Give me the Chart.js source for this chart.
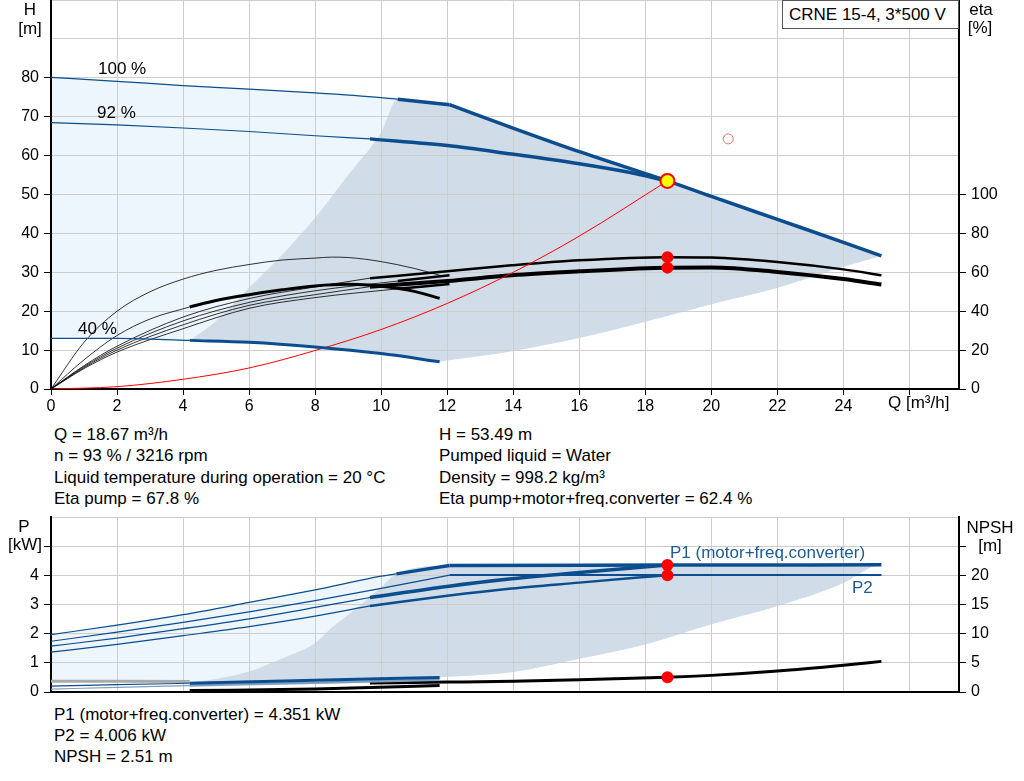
<!DOCTYPE html>
<html>
<head>
<meta charset="utf-8">
<title>CRNE 15-4, 3*500 V</title>
<script src="https://cdn.jsdelivr.net/npm/chart.js@4.4.1/dist/chart.umd.min.js"></script>
<style>
  body { margin: 0; background: #fff; }
  #page { position: relative; width: 1024px; height: 781px; overflow: hidden;
          font-family: "Liberation Sans", Arial, sans-serif; font-size: 17px; color: #000; }
  #page canvas { position: absolute; left: 0; }
  .t { position: absolute; white-space: nowrap; line-height: 17px; }
  .c { text-align: center; width: 60px; }
  .lbl { color: #1f5a96; }
  .box { position: absolute; left: 782px; top: 0; width: 177px; height: 29px;
         border: 1px solid #555; box-sizing: border-box; background: #fff; }
</style>
</head>
<body>
<div id="page">
  <canvas id="headChart" width="1024" height="425" style="top:0"></canvas>
  <canvas id="powerChart" width="1024" height="190" style="top:510px"></canvas>

  <div class="box"></div>
  <div class="t" style="left:789px;top:6px">CRNE 15-4, 3*500 V</div>

  <div class="t c" style="left:0;top:1px">H</div>
  <div class="t c" style="left:0;top:20px">[m]</div>
  <div class="t c" style="left:951px;top:1px">eta</div>
  <div class="t c" style="left:950px;top:19px">[%]</div>
  <div class="t" style="left:888px;top:394px">Q [m³/h]</div>

  <div class="t" style="left:98px;top:60px">100 %</div>
  <div class="t" style="left:97px;top:104px">92 %</div>
  <div class="t" style="left:78px;top:320px">40 %</div>

  <div class="t" style="left:54px;top:426px">Q = 18.67 m³/h</div>
  <div class="t" style="left:54px;top:447px">n = 93 % / 3216 rpm</div>
  <div class="t" style="left:54px;top:469px">Liquid temperature during operation = 20 °C</div>
  <div class="t" style="left:54px;top:490px">Eta pump = 67.8 %</div>
  <div class="t" style="left:439px;top:426px">H = 53.49 m</div>
  <div class="t" style="left:439px;top:447px">Pumped liquid = Water</div>
  <div class="t" style="left:439px;top:469px">Density = 998.2 kg/m³</div>
  <div class="t" style="left:439px;top:490px">Eta pump+motor+freq.converter = 62.4 %</div>

  <div class="t c" style="left:-6px;top:518px">P</div>
  <div class="t c" style="left:-5px;top:536px">[kW]</div>
  <div class="t c" style="left:960px;top:519px">NPSH</div>
  <div class="t c" style="left:960px;top:537px">[m]</div>
  <div class="t lbl" style="left:670px;top:544px">P1 (motor+freq.converter)</div>
  <div class="t lbl" style="left:852px;top:579px">P2</div>

  <div class="t" style="left:54px;top:706px">P1 (motor+freq.converter) = 4.351 kW</div>
  <div class="t" style="left:54px;top:727px">P2 = 4.006 kW</div>
  <div class="t" style="left:54px;top:748px">NPSH = 2.51 m</div>
</div>

<script>
// tick values
const qTicks = [0, 2, 4, 6, 8, 10, 12, 14, 16, 18, 20, 22, 24, 26];
const hTicks = [0, 10, 20, 30, 40, 50, 60, 70, 80, 90, 100];
const etaTicks = [0, 20, 40, 60, 80, 100];
const pTicks = [0, 1, 2, 3, 4, 5, 6];
const npshTicks = [0, 5, 10, 15, 20, 25, 30];

// duty point
const dutyQ = 18.67;
const dutyH = 53.49;
const dutyEta = [67.8, 62.4];
const dutyP = [4.351, 4.006];
const dutyNpsh = 2.51;
const setPoint = [20.51, 64.3];

// head curves [Q, H]
const head100 = [[0, 80.1], [2, 79.1], [4, 78.0], [6, 77.1], [8, 76.1], [10, 74.9], [10.5, 74.5], [12.07, 73.1]];
const head92 = [[0, 68.5], [2, 67.9], [4, 67.1], [6, 66.2], [8, 65.1], [9.66, 64.3], [12, 62.6], [13.95, 60.4], [16, 57.9], [17.5, 55.7], [18.67, 53.49]];
const head40 = [[0, 13.0], [2, 13.0], [4.2, 12.5], [6, 12.0], [8, 10.8], [10, 9.1], [11.77, 7.0]];
const maxHead = [[12.07, 73.1], [13.95, 67.2], [16, 61.0], [18.67, 53.49], [20, 49.5], [22, 43.6], [24, 37.7], [25.15, 34.2]];
const system = [[0, 0], [2, 0.6], [4, 2.5], [6, 5.4], [8, 9.9], [10, 15.3], [12, 22], [14, 30], [16, 39.3], [18.67, 53.49]];
const areaLeftH = [[4.2, 12.5], [5, 17.5], [6, 26], [7, 34.5], [8, 44], [9, 55], [10, 66], [10.5, 74.5]];
const areaRightH = [[11.77, 7.0], [12, 7.3], [14, 9.8], [16, 13.1], [18, 17.3], [20, 21.8], [22, 26], [24, 31.4], [25.15, 34.2]];

// efficiency curves [Q, eta %]
const etaPump92 = [[0, 0], [1, 12], [2, 22], [4, 37], [6, 46.5], [8, 52.5], [9.66, 57], [12, 60.5], [13.95, 63.6], [16, 66.2], [18.67, 67.8], [20, 67.6], [22, 65.3], [24, 61.5], [25.15, 58.5]];
const etaTotal92 = [[0, 0], [1, 11], [2, 20], [4, 33], [6, 43], [8, 48.5], [9.66, 52.6], [12, 55.5], [13.95, 58.5], [16, 60.5], [18.67, 62.4], [20, 62.5], [22, 60.2], [24, 56.5], [25.15, 53.7]];
const etaPump100 = [[0, 0], [1, 11.5], [2, 21], [4, 35], [6, 44.5], [8, 50.5], [10.5, 55.5], [12.07, 58.5]];
const etaTotal100 = [[0, 0], [1, 10.5], [2, 19], [4, 31], [6, 41.5], [8, 47], [10.5, 51.5], [12.07, 54]];
const etaPump40 = [[0, 0], [1, 24], [2, 40], [3, 50], [4, 56.5], [5, 61], [6, 64], [7, 66.3], [8, 67.3], [8.5, 67.8], [9, 67.6], [10, 65.5], [11, 62], [11.77, 58.5]];
const etaTotal40 = [[0, 0], [1, 15], [2, 27.5], [3, 36], [4.2, 42.2], [5, 45.5], [6, 48.5], [7, 51], [8, 53], [9, 53.8], [10, 52.8], [11, 50.2], [11.77, 46.6]];

// power curves [Q, kW]
const p1At100 = [[0, 1.97], [2, 2.29], [4, 2.65], [6, 3.07], [8, 3.5], [10, 3.97], [10.46, 4.05], [12.07, 4.34]];
const p2At100 = [[0, 1.74], [2, 2.05], [4, 2.39], [6, 2.75], [8, 3.13], [10, 3.55], [12.07, 4.01]];
const p1At92 = [[0, 1.57], [2, 1.85], [4, 2.17], [6, 2.51], [8, 2.9], [9.66, 3.24], [12, 3.62], [13.95, 3.88], [16, 4.1], [18.67, 4.351]];
const p2At92 = [[0, 1.37], [2, 1.63], [4, 1.93], [6, 2.24], [8, 2.6], [9.66, 2.95], [12, 3.3], [13.95, 3.55], [16, 3.75], [18.67, 4.006]];
const p1At40 = [[0, 0.2], [2, 0.25], [4.2, 0.3], [8, 0.4], [11.77, 0.5]];
const p2At40 = [[0, 0.1], [2, 0.16], [4.2, 0.22], [8, 0.32], [11.77, 0.42]];
const p1Max = [[12.07, 4.34], [18.67, 4.351], [25.15, 4.36]];
const p2Max = [[12.07, 4.01], [25.15, 4.01]];
const pBand = [[0, 0.37], [4.2, 0.36]];
const areaLeftP = [[4.2, 0.35], [5, 0.45], [6, 0.7], [7, 1.15], [8, 1.68], [8.5, 2.2], [9, 2.65], [9.5, 3.1], [10, 3.6], [10.46, 4.05]];
const areaRightP = [[11.77, 0.5], [12, 0.52], [13.95, 0.68], [16, 1.14], [18, 1.63], [20, 2.32], [22, 2.95], [24, 3.74], [24.9, 4.3], [25.15, 4.36]];

// NPSH curves [Q, m]
const npsh92 = [[9.66, 1.55], [12, 1.7], [14, 1.85], [16, 2.1], [18.67, 2.51], [20, 2.85], [22, 3.6], [24, 4.6], [25.15, 5.25]];
const npsh40 = [[4.2, 0.25], [8, 0.5], [11.77, 1.1]];

const blue = '#0b4d8e';
const black = '#000000';
const red = '#ff0000';
const greyFill = '#d0dce8';
const lightFill = '#eef6fd';
const gridColor = '#cdcdcd';
const font = { family: '"Liberation Sans", Arial, sans-serif', size: 16 };

const xy = a => a.map(([x, y]) => ({ x, y }));
const upTo = (a, q) => a.filter(p => p[0] <= q);
const from = (a, q) => a.filter(p => p[0] >= q);
const join = (...parts) => parts.flat().filter((p, i, a) => i === 0 || p[0] !== a[i - 1][0]);

function curve(data, color, width, axis = 'y') {
    return {
        data: xy(data), yAxisID: axis, borderColor: color, borderWidth: width,
        pointRadius: 0, fill: false, cubicInterpolationMode: 'monotone'
    };
}

function split(data, q, color, thin, thick, axis = 'y') {
    return [curve(upTo(data, q), color, thin, axis), curve(from(data, q), color, thick, axis)];
}

function area(data, color, fill) {
    return {
        data: xy(data), yAxisID: 'y', borderColor: 'transparent', borderWidth: 0,
        backgroundColor: color, pointRadius: 0, fill: fill, cubicInterpolationMode: 'monotone'
    };
}

function dots(data, axis, r, bg, border, bw) {
    return {
        data: xy(data), yAxisID: axis, showLine: false, pointRadius: r,
        pointBackgroundColor: bg, pointBorderColor: border, pointBorderWidth: bw
    };
}

function xScale(show) {
    return {
        type: 'linear', min: 0, max: 27.5,
        afterBuildTicks: s => { s.ticks = qTicks.map(v => ({ value: v })); },
        afterFit: s => { s.height = show ? 36 : 8; s.paddingLeft = 0; s.paddingRight = 0; },
        grid: { color: gridColor, drawTicks: show, tickLength: 6, tickColor: black },
        border: { color: black, width: 2 },
        ticks: { display: show, padding: 2, font, color: black, autoSkip: false, maxRotation: 0,
                 callback: v => (v <= 24 ? v : '') }
    };
}

function yScale(pos, max, ticks, labelMax, markMax, width, onChart) {
    return {
        type: 'linear', position: pos, min: 0, max: max,
        afterBuildTicks: s => { s.ticks = ticks.map(v => ({ value: v })); },
        afterFit: s => { s.width = width; s.paddingTop = 0; s.paddingBottom = 0; },
        grid: {
            color: gridColor, drawOnChartArea: onChart, tickLength: 7,
            tickColor: c => (c.tick && c.tick.value <= markMax ? black : 'transparent')
        },
        border: { color: black, width: 2 },
        ticks: { padding: 5, font, color: black, autoSkip: false,
                 callback: v => (v <= labelMax ? v : '') }
    };
}

// fills go under the grid, lines over it
const baseOptions = top => ({
    responsive: false,
    animation: false,
    layout: { padding: { top: top, left: 0, right: 0, bottom: 0 }, autoPadding: false },
    plugins: {
        legend: { display: false },
        tooltip: { enabled: false },
        filler: { drawTime: 'beforeDraw' }
    }
});

// Q-H / eta chart
new Chart(document.getElementById('headChart'), {
    type: 'line',
    data: {
        datasets: [
            dots([[dutyQ, dutyH]], 'y', 7, '#ffff00', red, 2),
            dots(dutyEta.map(e => [dutyQ, e]), 'y1', 6, red, red, 0),
            dots([setPoint], 'y', 5, 'rgba(0,0,0,0)', '#f07070', 1),
            ...split(head100, 10.5, blue, 1.2, 3.5),
            curve(maxHead, blue, 3.5),
            ...split(head92, 9.66, blue, 1.2, 3.5),
            ...split(head40, 4.2, blue, 1.2, 3),
            curve(system, red, 1),
            ...split(etaPump92, 9.66, black, 0.8, 2.5, 'y1'),
            ...split(etaTotal92, 9.66, black, 0.8, 4, 'y1'),
            ...split(etaPump100, 10.5, black, 0.8, 2.5, 'y1'),
            ...split(etaTotal100, 10.5, black, 0.8, 2.5, 'y1'),
            curve(etaPump40, black, 0.8, 'y1'),
            ...split(etaTotal40, 4.2, black, 0.8, 3, 'y1'),
            area(join(areaLeftH, from(head100, 10.5), maxHead), greyFill, '+1'),
            area(join(from(head40, 4.2), areaRightH), greyFill, false),
            area(join(head100, maxHead), lightFill, '+1'),
            area(join(head40, areaRightH), lightFill, false)
        ]
    },
    options: {
        ...baseOptions(0),
        scales: {
            x: xScale(true),
            y: yScale('left', 100, hTicks, 80, 80, 51, true),
            y1: yScale('right', 200, etaTicks, 100, 100, 65, false)
        }
    }
});

// P / NPSH chart
new Chart(document.getElementById('powerChart'), {
    type: 'line',
    data: {
        datasets: [
            dots(dutyP.map(p => [dutyQ, p]), 'y', 6, red, red, 0),
            dots([[dutyQ, dutyNpsh]], 'y1', 6, red, red, 0),
            ...split(p1At92, 9.66, blue, 1.2, 3.5),
            ...split(p2At92, 9.66, blue, 1.2, 2.5),
            ...split(p1At100, 10.46, blue, 1.2, 3.5),
            curve(p1Max, blue, 3.5),
            curve(p2At100, blue, 1.2),
            curve(p2Max, blue, 2),
            ...split(p1At40, 4.2, blue, 1.2, 3),
            ...split(p2At40, 4.2, '#7f9fbf', 1.2, 2.5),
            curve(pBand, '#aaaaaa', 3),
            curve(npsh92, black, 3, 'y1'),
            curve(npsh40, black, 3, 'y1'),
            area(join(areaLeftP, from(p1At100, 10.46), p1Max), greyFill, '+1'),
            area(join(from(p1At40, 4.2), areaRightP), greyFill, false),
            area(join(p1At100, p1Max), lightFill, '+1'),
            area(join(pBand, from(p1At40, 8), areaRightP), lightFill, false)
        ]
    },
    options: {
        ...baseOptions(7),
        scales: {
            x: xScale(false),
            y: yScale('left', 6, pTicks, 4, 5, 51, true),
            y1: yScale('right', 30, npshTicks, 20, 25, 65, false)
        }
    }
});
</script>
</body>
</html>
